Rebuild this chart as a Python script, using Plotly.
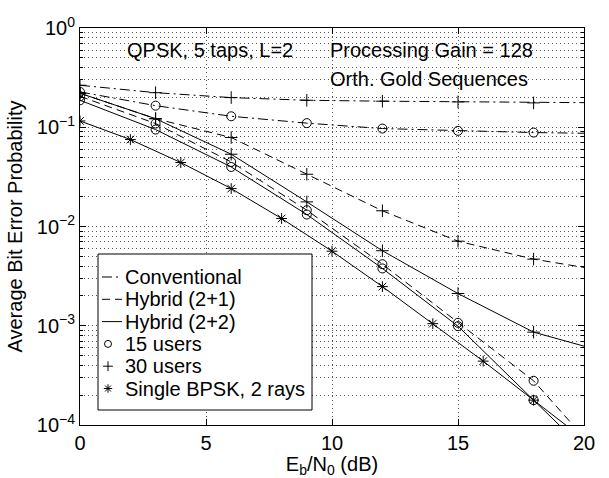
import math
import plotly.graph_objects as go

# ---- data ----
snr_users = [0, 3, 6, 9, 12, 15, 18, 20]          # last point: line only, no marker
conv_30 = [0.265, 0.223, 0.199, 0.187, 0.183, 0.180, 0.176, 0.177]
conv_15 = [0.227, 0.165, 0.129, 0.110, 0.097, 0.092, 0.0884, 0.087]
hyb21_30 = [0.22, 0.122, 0.0788, 0.0336, 0.0144, 0.00711, 0.00469, 0.00387]
hyb22_30 = [0.22, 0.122, 0.0535, 0.0177, 0.0057, 0.00211, 0.000862, 0.000623]
hyb21_15 = [0.205, 0.109, 0.0447, 0.0146, 0.00417, 0.00107, 0.000279, 7.5e-5]
hyb22_15 = [0.187, 0.0948, 0.0398, 0.0132, 0.00378, 0.00099, 0.000178, 5.7e-5]

snr_bpsk = [0, 2, 4, 6, 8, 10, 12, 14, 16, 18, 20]  # last point: line only
bpsk = [0.1157, 0.0752, 0.0441, 0.0241, 0.01204, 0.00564, 0.00248, 0.00105,
        0.00044, 0.000178, 7.2e-5]

ytick_vals = [1e-4, 1e-3, 1e-2, 1e-1, 1e0]
ytick_text = ["10<sup>−4</sup>", "10<sup>−3</sup>", "10<sup>−2</sup>",
              "10<sup>−1</sup>", "10<sup>0</sup>"]
xtick_vals = [0, 5, 10, 15, 20]

legend_names = ["Conventional", "Hybrid (2+1)", "Hybrid (2+2)",
                "15 users", "30 users", "Single BPSK, 2 rays"]

# ---- styling / layout ----
FONT = "Liberation Sans, Arial, Helvetica, sans-serif"
DASHDOT = "10px,4px,2px,4px"
DASHED = "8px,5px"
W, H = 609, 478
ML, MR, MT, MB = 80, 25, 28, 53
X_RANGE = (0, 20)
Y_RANGE = (-4, 0)
PW, PH = W - ML - MR, H - MT - MB


def px_to_x(px):
    return X_RANGE[0] + (px - ML) / PW * (X_RANGE[1] - X_RANGE[0])


def py_to_logy(py):
    return Y_RANGE[1] - (py - MT) / PH * (Y_RANGE[1] - Y_RANGE[0])


fig = go.Figure()


def add_curve(x, y, dash, symbol, msize=9):
    fig.add_trace(go.Scatter(x=x, y=y, mode="lines", showlegend=False,
                             line=dict(color="black", width=1, dash=dash),
                             hoverinfo="skip"))
    fig.add_trace(go.Scatter(x=x[:-1], y=y[:-1], mode="markers", showlegend=False,
                             marker=dict(symbol=symbol, size=msize, color="black",
                                         line=dict(color="black", width=1))))


add_curve(snr_users, conv_30, DASHDOT, "cross-thin-open")
add_curve(snr_users, conv_15, DASHDOT, "circle-open")
add_curve(snr_users, hyb21_30, DASHED, "cross-thin-open")
add_curve(snr_users, hyb22_30, "solid", "cross-thin-open")
add_curve(snr_users, hyb21_15, DASHED, "circle-open")
add_curve(snr_users, hyb22_15, "solid", "circle-open")
add_curve(snr_bpsk, bpsk, "solid", "asterisk-open")

# ---- hand-drawn legend box (MATLAB style) ----
LEG_LEFT, LEG_RIGHT, LEG_TOP, LEG_BOTTOM = 98, 312, 254, 410
ROW0, ROW_STEP = 277, 22.3
SAMPLE_L, SAMPLE_R, MARK_X, TEXT_X = 102, 122, 108, 123

bx0, bx1 = px_to_x(LEG_LEFT), px_to_x(LEG_RIGHT)
by0, by1 = 10 ** py_to_logy(LEG_BOTTOM), 10 ** py_to_logy(LEG_TOP)
fig.add_trace(go.Scatter(x=[bx0, bx1, bx1, bx0, bx0], y=[by0, by0, by1, by1, by0],
                         mode="lines", fill="toself", fillcolor="white",
                         line=dict(color="black", width=1), showlegend=False,
                         hoverinfo="skip"))

row_styles = [("line", DASHDOT), ("line", DASHED), ("line", "solid"),
              ("marker", "circle-open"), ("marker", "cross-thin-open"),
              ("marker", "asterisk-open")]
for i, (name, (kind, sty)) in enumerate(zip(legend_names, row_styles)):
    py = ROW0 + i * ROW_STEP
    ly = py_to_logy(py)
    if kind == "line":
        fig.add_trace(go.Scatter(x=[px_to_x(SAMPLE_L), px_to_x(SAMPLE_R)],
                                 y=[10 ** ly, 10 ** ly], mode="lines",
                                 line=dict(color="black", width=1, dash=sty),
                                 showlegend=False, hoverinfo="skip"))
    else:
        fig.add_trace(go.Scatter(x=[px_to_x(MARK_X)], y=[10 ** ly], mode="markers",
                                 marker=dict(symbol=sty, size=7, color="black",
                                             line=dict(color="black", width=1)),
                                 showlegend=False, hoverinfo="skip"))
    fig.add_annotation(x=px_to_x(TEXT_X), y=ly, xref="x", yref="y", text=name,
                       showarrow=False, xanchor="left", yanchor="middle",
                       font=dict(size=20, color="black", family=FONT))

# ---- text annotations ----
fig.add_annotation(x=1.8, y=-0.2246, xref="x", yref="y", text="QPSK, 5 taps, L=2",
                   showarrow=False, xanchor="left", yanchor="middle",
                   font=dict(size=20, color="black", family=FONT))
fig.add_annotation(x=9.85, y=-0.2246, xref="x", yref="y", text="Processing Gain = 128",
                   showarrow=False, xanchor="left", yanchor="middle",
                   font=dict(size=20, color="black", family=FONT))
fig.add_annotation(x=9.85, y=-0.517, xref="x", yref="y", text="Orth. Gold Sequences",
                   showarrow=False, xanchor="left", yanchor="middle",
                   font=dict(size=20, color="black", family=FONT))

axis_common = dict(showline=True, linecolor="black", linewidth=1, mirror="allticks",
                   ticks="inside", ticklen=6, tickcolor="black", automargin=False,
                   showgrid=True, gridcolor="#555", griddash="1px,3px", gridwidth=1,
                   zeroline=False, tickfont=dict(size=20, color="black", family=FONT))

fig.update_xaxes(range=list(X_RANGE), tickvals=xtick_vals,
                 title=dict(text="E<sub>b</sub>/N<sub>0</sub> (dB)",
                            font=dict(size=20, color="black", family=FONT), standoff=2),
                 **axis_common)
fig.update_yaxes(type="log", range=list(Y_RANGE), tickvals=ytick_vals, ticktext=ytick_text,
                 title=dict(text="Average Bit Error Probability",
                            font=dict(size=20, color="black", family=FONT), standoff=8),
                 minor=dict(dtick="D1", showgrid=True, gridcolor="#555", griddash="1px,3px",
                            ticks="inside", ticklen=3, tickcolor="black"),
                 **axis_common)

fig.update_layout(
    width=W, height=H,
    margin=dict(l=ML, r=MR, t=MT, b=MB),
    paper_bgcolor="white", plot_bgcolor="white",
    font=dict(family=FONT, color="black", size=20),
    showlegend=False,
)

fig.write_html("out.html",
               config={"displayModeBar": False},
               post_script="document.body.style.margin='0';"
                           "document.body.style.overflow='hidden';")
